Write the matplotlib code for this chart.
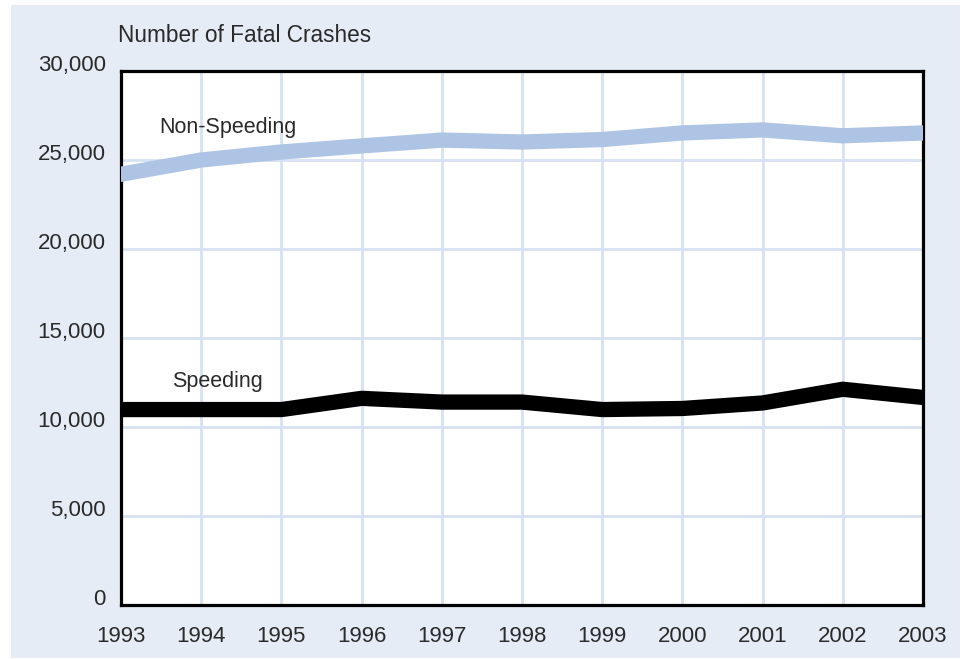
import matplotlib.pyplot as plt
from matplotlib.patches import Rectangle

years = [1993, 1994, 1995, 1996, 1997, 1998, 1999, 2000, 2001, 2002, 2003]
non_speeding = [24200, 25000, 25450, 25790, 26120, 26010, 26150, 26520, 26690, 26360, 26520]
speeding = [10980, 10980, 10980, 11610, 11400, 11400, 10980, 11040, 11350, 12120, 11660]
yticks = [0, 5000, 10000, 15000, 20000, 25000, 30000]

W, H = 964, 659
plt.rcParams['font.family'] = ['Liberation Sans', 'DejaVu Sans']
txt = '#2a2a2a'

fig = plt.figure(figsize=(W / 100, H / 100), dpi=100, facecolor='white')
# light blue panel behind everything
fig.add_artist(Rectangle((11 / W, 1 - 658 / H), (960 - 11) / W, (658 - 5) / H,
                         transform=fig.transFigure, facecolor='#e6ecf6',
                         edgecolor='none', zorder=-10))

ax = fig.add_axes([121 / W, 1 - 605 / H, (923 - 121) / W, (605 - 71) / H])
ax.set_facecolor('white')

ax.plot(years, non_speeding, color='#adc4e4', lw=11, solid_joinstyle='miter', zorder=3)
ax.plot(years, speeding, color='black', lw=11, solid_joinstyle='miter', zorder=3)

ax.set_xlim(1993, 2003)
ax.set_ylim(0, 30000)
ax.set_xticks(years)
ax.set_yticks(yticks)
ax.grid(True, color='#d6e1f1', lw=2, zorder=1)
ax.set_axisbelow(True)
ax.tick_params(length=0, labelsize=16, labelcolor=txt)
ax.tick_params(axis='x', pad=15)
ax.tick_params(axis='y', pad=11)
ax.set_yticklabels([f'{v:,}' for v in yticks])
for lab in ax.get_yticklabels():
    lab.set_verticalalignment('baseline')
for s in ax.spines.values():
    s.set_linewidth(2.3)
    s.set_color('black')

fig.text(118 / W, 1 - 35 / H, 'Number of Fatal Crashes', fontsize=16.3,
         color=txt, va='center', ha='left')
ax.text(1993.48, 26800, 'Non-Speeding', fontsize=15.5, color=txt, va='center', ha='left')
ax.text(1993.64, 12550, 'Speeding', fontsize=15.5, color=txt, va='center', ha='left')

fig.savefig('out.png', dpi=100, facecolor='white')
